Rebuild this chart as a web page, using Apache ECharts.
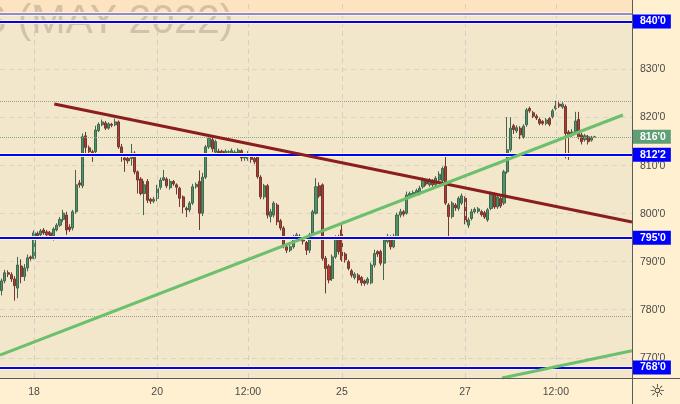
<!DOCTYPE html>
<html>
<head>
<meta charset="utf-8">
<script src="https://cdn.jsdelivr.net/npm/echarts@6.0.0/dist/echarts.min.js"></script>
<style>html,body{margin:0;padding:0;background:#FEF0D0}#c{width:680px;height:404px}</style>
</head>
<body>
<div id="c"></div>
<script>
// ---- data ----
const SLOT_COUNT = 195;                       // hourly slots on the time axis
const tickIndex = [10, 48, 76, 105, 143, 171];
const tickLabels = ['18', '20', '12:00', '25', '27', '12:00'];
const yRange = [765.79, 844.48];
// candles: [open, close, low, high]
const candles = [
[784.0,786.0,783.0,786.5],[786.0,787.7,785.5,788.3],[787.7,787.4,786.8,788.2],[787.3,786.4,785.8,787.8],
[786.4,785.0,781.9,787.0],[784.5,789.3,782.4,791.0],[789.1,786.9,785.5,790.5],[786.9,788.7,786.0,789.5],
[788.7,790.8,788.0,791.5],[791.0,790.7,790.2,791.3],[790.7,796.0,790.5,796.5],[795.9,795.4,795.0,796.3],
[795.6,796.4,795.3,796.8],[796.6,796.0,795.6,797.0],[796.2,795.6,795.2,796.6],[796.0,795.3,795.0,796.4],
[795.1,796.8,794.4,797.2],[796.6,797.6,796.3,798.0],[797.6,798.8,797.2,799.3],[798.8,800.1,798.3,800.8],
[799.7,796.6,795.6,800.4],[797.2,796.7,796.2,797.8],[797.0,800.4,796.5,800.8],[800.4,806.0,800.0,809.1],
[806.4,806.0,805.4,807.0],[805.8,816.0,805.3,816.7],[816.2,813.8,812.6,817.0],[813.7,812.9,812.5,814.2],
[812.9,812.4,810.8,813.3],[812.9,817.4,812.5,818.3],[817.3,818.6,817.0,819.0],[818.5,819.1,818.2,819.6],
[818.9,817.8,817.4,819.3],[817.8,818.7,817.5,819.0],[818.6,818.4,818.0,818.9],[818.5,819.1,818.2,819.8],
[819.1,813.9,813.5,819.4],[813.9,811.9,810.8,814.5],[811.6,811.2,808.7,812.3],[811.5,811.0,810.4,811.8],
[811.5,812.6,810.0,814.5],[812.6,808.7,808.2,813.0],[808.7,807.0,804.2,809.0],[807.2,804.2,803.8,807.6],
[804.2,806.0,799.7,806.8],[806.7,802.8,802.2,807.2],[803.0,802.6,802.0,803.3],[802.6,803.0,802.2,803.5],
[803.2,805.3,802.6,806.0],[805.5,807.0,805.0,807.5],[807.0,807.5,806.8,809.1],[807.2,805.8,805.3,807.6],
[805.4,806.7,805.0,807.2],[806.7,806.2,805.8,807.0],[806.0,805.5,804.0,806.3],[805.3,803.2,801.4,805.6],
[803.5,801.4,800.1,803.8],[801.1,800.8,799.3,801.5],[800.8,802.2,800.3,802.6],[802.2,805.6,801.8,806.2],
[805.6,806.1,805.2,806.5],[806.7,800.1,796.6,809.0],[800.1,807.6,799.5,808.5],[807.6,813.9,807.2,814.3],
[813.9,815.7,813.5,816.6],[815.4,813.5,812.8,816.2],[812.8,815.0,812.4,815.4],[813.0,812.6,811.8,813.5],
[813.0,812.5,812.0,813.3],[812.6,813.0,812.2,813.4],[812.8,812.9,812.4,813.2],[812.4,813.1,812.0,813.6],
[812.7,812.8,812.3,813.2],[812.6,813.2,812.2,813.6],[813.1,811.6,810.9,813.4],[811.6,812.0,811.0,812.4],
[811.5,812.3,811.0,813.0],[811.8,811.3,810.6,812.1],[811.5,810.8,810.3,811.9],[812.2,807.7,807.3,812.5],
[807.6,803.5,803.0,808.0],[803.5,805.8,803.0,806.2],[805.8,799.7,799.0,806.2],[799.4,800.4,798.2,801.0],
[799.7,802.2,799.2,802.6],[801.8,798.3,797.6,802.2],[798.5,797.0,796.5,798.9],[797.0,793.5,792.8,797.4],
[793.1,792.4,791.8,793.6],[792.4,793.1,792.0,793.6],[793.1,795.2,792.7,795.6],[795.2,795.6,794.8,796.0],
[795.3,794.9,794.4,795.7],[795.0,794.3,793.6,795.3],[794.0,792.4,791.4,794.3],[792.4,795.6,791.8,796.0],
[795.6,800.4,795.2,800.8],[800.1,805.6,799.8,807.4],[805.8,803.7,803.3,806.5],[806.0,790.7,790.2,806.3],
[790.7,788.6,783.4,791.2],[789.1,786.2,785.5,789.5],[786.5,791.0,786.0,791.5],[791.0,794.9,790.6,795.5],
[795.2,792.1,791.5,795.6],[796.6,790.4,790.0,798.0],[791.6,790.4,789.8,792.0],[790.0,788.6,788.2,790.4],
[788.1,787.2,786.7,788.5],[786.7,787.4,786.3,787.8],[787.2,786.2,785.5,787.6],[786.7,785.6,785.0,787.0],
[786.0,785.5,785.0,786.3],[785.6,786.4,785.2,786.8],[785.6,789.3,785.3,789.8],[789.3,791.7,788.8,792.5],
[792.1,791.6,791.0,792.4],[792.1,789.7,789.2,792.5],[789.7,794.5,786.2,795.0],[794.2,795.3,793.8,795.8],
[795.2,793.1,792.5,795.5],[793.1,795.3,792.8,795.8],[795.2,799.7,794.8,800.2],[799.7,800.4,799.2,801.0],
[800.4,799.9,799.4,800.8],[800.1,803.9,799.8,804.6],[803.8,804.2,803.4,804.6],[804.0,804.4,803.6,804.8],
[804.2,804.8,803.9,805.2],[804.2,805.3,803.8,805.8],[805.6,807.0,805.2,807.5],[806.8,806.2,805.8,807.2],
[806.0,807.0,805.6,807.4],[806.9,806.0,805.6,807.2],[806.0,807.4,805.6,807.8],[807.0,808.2,806.6,808.8],
[806.9,809.4,806.4,809.8],[809.8,802.2,801.8,812.2],[801.8,799.4,795.2,802.2],[799.4,802.2,799.0,802.6],
[801.8,801.2,800.6,802.2],[801.1,803.2,800.6,803.6],[802.2,803.7,801.8,804.2],[803.2,798.3,797.8,803.6],
[797.6,798.7,797.0,799.2],[799.0,800.4,798.6,801.0],[800.4,800.9,800.0,801.3],[800.5,801.0,800.1,801.4],
[800.4,799.8,799.4,800.8],[800.2,799.3,798.9,800.6],[798.7,800.8,798.3,801.2],[801.1,804.2,800.7,804.6],
[804.0,801.4,801.0,804.4],[801.4,803.5,801.0,803.9],[803.2,801.6,801.2,803.6],[802.2,808.7,801.8,809.1],
[808.7,813.3,808.3,820.1],[813.3,817.8,812.9,820.1],[818.3,817.5,816.6,818.7],[817.2,817.9,816.8,818.4],
[817.8,816.4,815.5,818.2],[816.0,818.2,815.6,818.6],[818.5,821.6,818.1,822.0],[821.9,821.4,821.0,822.3],
[821.0,820.3,819.9,821.4],[820.3,819.9,819.5,820.7],[819.6,818.8,818.4,820.0],[819.2,818.8,818.4,819.5],
[818.8,819.5,818.4,819.9],[819.8,818.6,818.2,820.1],[820.2,821.4,819.8,821.8],[821.9,822.4,821.5,823.5],
[822.8,822.4,822.0,823.5],[822.2,822.8,821.8,823.2],[822.3,816.7,811.5,822.7],[817.0,816.5,811.2,817.4],
[816.4,817.0,816.0,817.6],[817.1,819.3,816.7,821.2],[819.6,816.0,815.5,821.2],[816.4,815.0,814.4,816.8],
[815.4,816.2,815.0,816.6],[816.0,815.0,814.4,816.4],[815.3,815.9,815.0,816.2],[815.9,816.0,815.8,816.2]
];
const levelValues = [840, 812.25, 795, 768];
const levelLabels = ["840'0", "812'2", "795'0", "768'0"];
const upperZoneStart = 841.56;
const lastPrice = 816.0, lastPriceLabel = "816'0";
const rangeHigh = 823.45, rangeLow = 778.7;
const resistanceLine = [[16.25, 822.83], [194.5, 798.26]];
const supportLine = [[-0.5, 770.58], [191.7, 820.54]];
const lowerSupportLine = [[154.4, 765.79], [194.5, 771.47]];

// ---- chart ----
const categories = Array.from({length: SLOT_COUNT}, (_, i) => 'h' + i);
const labelAt = {};
tickIndex.forEach((t, k) => { labelAt[t] = tickLabels[k]; });

const chart = echarts.init(document.getElementById('c'), null, {renderer: 'canvas'});
const FONT = 'Liberation Sans';
const noSym = {symbol: ['none', 'none']};

chart.setOption({
  animation: false,
  backgroundColor: '#FEF0D0',
  textStyle: {fontFamily: FONT},
  grid: {left: 0, right: 48, top: 0, bottom: 26, show: true, backgroundColor: '#F2E6CB', borderWidth: 0},
  xAxis: [
    {type: 'category', data: categories, boundaryGap: true,
     axisLine: {show: false}, axisTick: {show: false}, splitLine: {show: false},
     axisLabel: {interval: (i) => labelAt[i] !== undefined, formatter: (v, i) => labelAt[i] || '',
                 color: '#4a4a4a', fontSize: 10.5, margin: 9, fontFamily: FONT}},
    {type: 'value', min: -0.5, max: SLOT_COUNT - 0.5, show: false}
  ],
  yAxis: {type: 'value', position: 'right', min: yRange[0], max: yRange[1], splitNumber: 8,
          minInterval: 10, maxInterval: 10,
          axisLine: {show: false}, axisTick: {show: false},
          axisLabel: {showMinLabel: false, showMaxLabel: false, formatter: (v) => v + "'0",
                      color: '#4a4a4a', fontSize: 10.5, margin: 8, fontFamily: FONT},
          splitLine: {lineStyle: {color: '#d8d3cb', type: [5, 4], width: 1}}},
  series: [
    {type: 'line', xAxisIndex: 1, data: [], z: 1, silent: true,
     markArea: {silent: true, itemStyle: {color: '#FDE3BF'},
                data: [[{yAxis: upperZoneStart}, {yAxis: yRange[1]}]]}},
    {type: 'line', xAxisIndex: 1, data: [], z: 1.2, silent: true,
     markLine: Object.assign({silent: true, label: {show: false},
                lineStyle: {color: '#d3cfc8', type: [5, 4], width: 1},
                data: tickIndex.map(t => ({xAxis: t}))}, noSym)},
    {type: 'candlestick', xAxisIndex: 0, data: candles, barWidth: 2.6, z: 2,
     itemStyle: {color: '#4a9466', color0: '#b8382a', borderColor: '#44664f', borderColor0: '#6e3a33', borderWidth: 1}},
    {type: 'line', xAxisIndex: 1, data: [], z: 3, silent: true,
     markLine: Object.assign({silent: true, label: {show: false},
                lineStyle: {color: '#FFF6C6', type: 'solid', width: 4},
                data: levelValues.concat([upperZoneStart]).map(v => ({yAxis: v}))}, noSym)},
    {type: 'line', xAxisIndex: 1, data: [], z: 4, silent: true,
     markLine: Object.assign({silent: true,
                label: {show: true, position: 'end', distance: 0, backgroundColor: '#0000FF', color: '#fff',
                        fontWeight: 'bold', fontSize: 10.5, fontFamily: FONT, padding: [2, 5, 1, 8]},
                lineStyle: {color: '#0000FF', type: 'solid', width: 2},
                data: levelValues.map((v, k) => ({yAxis: v, label: {formatter: levelLabels[k]}}))
                  .concat([{yAxis: upperZoneStart, label: {show: false}, lineStyle: {color: '#8B8BE6'}}])}, noSym)},
    {type: 'line', xAxisIndex: 1, data: [], z: 4, silent: true,
     markLine: Object.assign({silent: true,
                label: {show: false},
                lineStyle: {color: '#9a9a9a', type: 'dotted', width: 1},
                data: [{yAxis: rangeHigh}, {yAxis: rangeLow},
                       {yAxis: lastPrice, lineStyle: {color: '#7fa88a'},
                        label: {show: true, position: 'end', distance: 0, formatter: lastPriceLabel,
                                backgroundColor: '#5E9F76', color: '#fff', fontWeight: 'bold', fontSize: 10.5,
                                fontFamily: FONT, padding: [2, 5, 1, 8]}}]}, noSym)},
    {type: 'line', xAxisIndex: 1, data: resistanceLine, z: 5, showSymbol: false, silent: true,
     lineStyle: {color: '#8B1D1D', width: 3}},
    {type: 'line', xAxisIndex: 1, data: supportLine, z: 5, showSymbol: false, silent: true,
     lineStyle: {color: '#6CBF6C', width: 3}},
    {type: 'line', xAxisIndex: 1, data: lowerSupportLine, z: 5, showSymbol: false, silent: true,
     lineStyle: {color: '#6CBF6C', width: 3}}
  ],
  graphic: {elements: [
    {type: 'text', left: -21, top: 1, z: 1.5, silent: true,
     style: {text: 'S (MAY 2022)', font: '41px "Liberation Sans"', fill: 'rgba(110,100,90,0.27)'}},
    {type: 'line', z: 10, silent: true, shape: {x1: 632.5, y1: 0, x2: 632.5, y2: 404},
     style: {stroke: '#5a5a5a', lineWidth: 1}},
    {type: 'line', z: 10, silent: true, shape: {x1: 0, y1: 378.5, x2: 680, y2: 378.5},
     style: {stroke: '#5a5a5a', lineWidth: 1}},
    {type: 'text', x: 657, y: 392, z: 10, silent: true,
     style: {text: '\u263C', font: '18px "DejaVu Sans"', fill: '#333', align: 'center', verticalAlign: 'middle'}}
  ]}
});
</script>
</body>
</html>
